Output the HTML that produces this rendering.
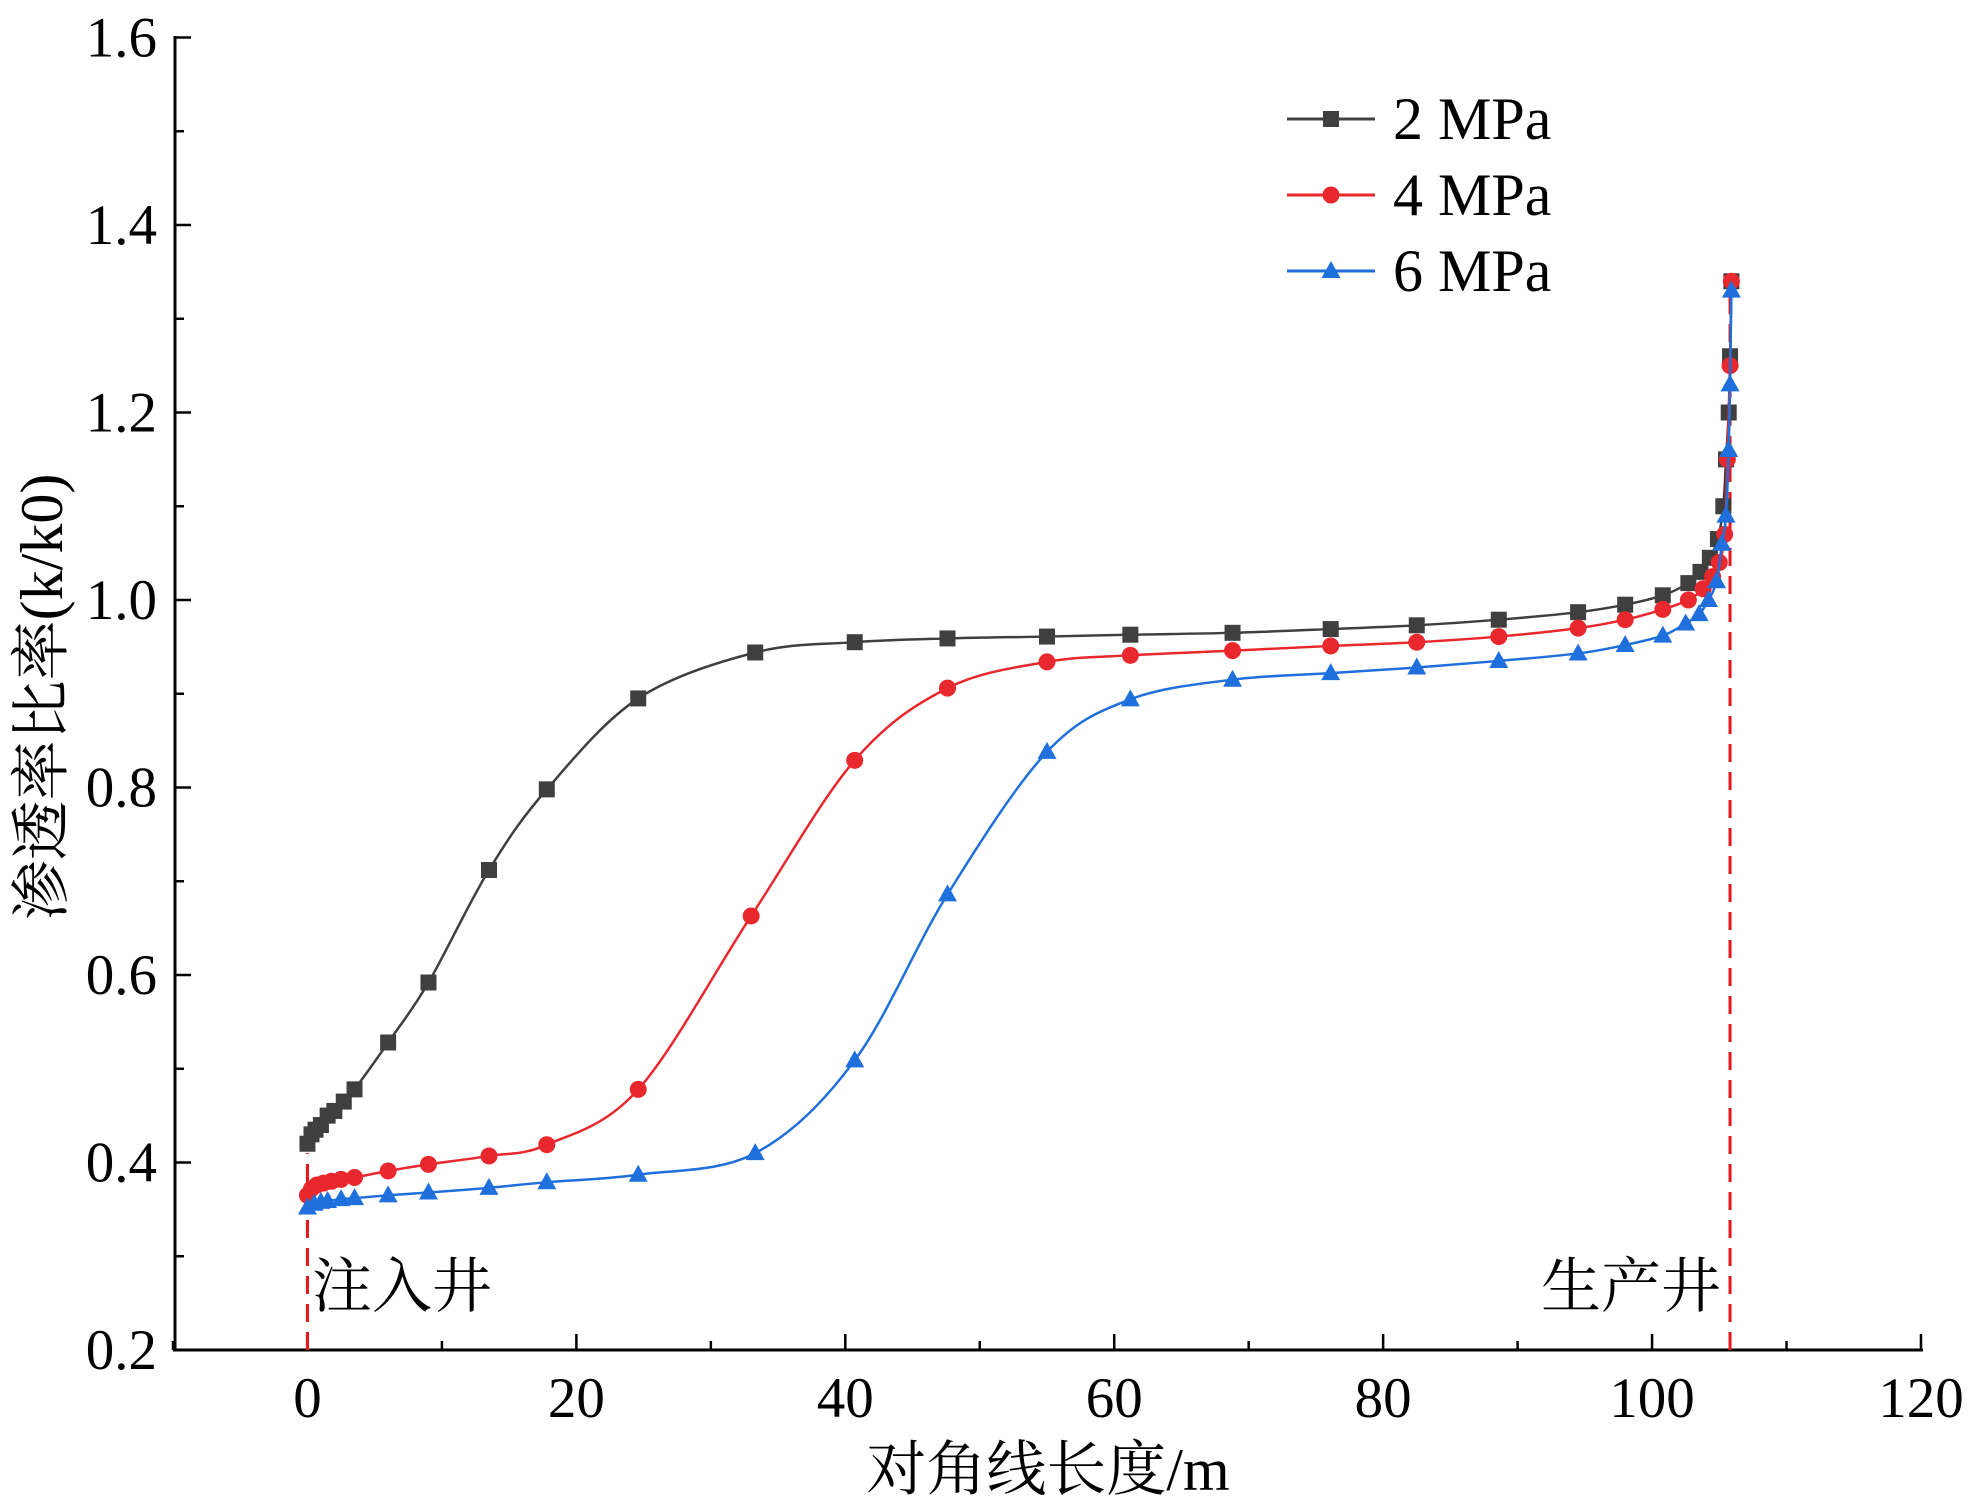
<!DOCTYPE html>
<html><head><meta charset="utf-8"><style>
body{margin:0;background:#fff}
svg{display:block}
text{font-family:"Liberation Serif","Noto Serif CJK SC",serif;fill:#000}
</style></head><body>
<svg id="c" width="1969" height="1507" viewBox="0 0 1969 1507"></svg>
<script>
const xTicks=[0,20,40,60,80,100,120];
const yTicks=[0.2,0.4,0.6,0.8,1.0,1.2,1.4,1.6];
const x2=[0,0.3,0.6,1,1.5,2,2.7,3.5,6,9,13.5,17.8,24.6,33.3,40.7,47.6,55,61.2,68.8,76.1,82.5,88.6,94.5,98,100.8,102.7,103.6,104.3,104.9,105.3,105.5,105.7,105.8,105.9];
const y2=[0.42,0.43,0.435,0.44,0.45,0.455,0.465,0.478,0.528,0.592,0.712,0.798,0.895,0.944,0.955,0.959,0.961,0.963,0.965,0.969,0.973,0.979,0.987,0.995,1.005,1.018,1.03,1.045,1.065,1.1,1.15,1.2,1.26,1.34];
const x4=[0,0.3,0.7,1.2,1.8,2.5,3.5,6,9,13.5,17.8,24.6,33,40.7,47.6,55,61.2,68.8,76.1,82.5,88.6,94.5,98,100.8,102.7,103.8,104.5,105,105.4,105.6,105.8,105.9];
const y4=[0.365,0.372,0.376,0.378,0.38,0.382,0.384,0.391,0.398,0.407,0.419,0.478,0.663,0.829,0.906,0.934,0.941,0.946,0.951,0.955,0.961,0.97,0.979,0.99,1.0,1.012,1.025,1.04,1.07,1.15,1.25,1.34];
const x6=[0,0.5,1,1.5,2.5,3.5,6,9,13.5,17.8,24.6,33.3,40.7,47.6,55,61.2,68.8,76.1,82.5,88.6,94.5,98,100.8,102.5,103.5,104.2,104.8,105.2,105.5,105.7,105.8,105.9];
const y6=[0.352,0.356,0.358,0.359,0.361,0.362,0.365,0.368,0.373,0.379,0.387,0.41,0.509,0.686,0.838,0.894,0.915,0.922,0.928,0.935,0.943,0.952,0.962,0.975,0.985,1.0,1.02,1.06,1.09,1.16,1.23,1.33];
const wells=[0,105.8];
const NS='http://www.w3.org/2000/svg';
const svg=document.getElementById('c');
const X=v=>173+(v+10)*13.446;
const Y=v=>1350-(v-0.2)*937.5;
function mk(tag,attrs,parent){const e=document.createElementNS(NS,tag);for(const k in attrs)e.setAttribute(k,attrs[k]);(parent||svg).appendChild(e);return e;}
let a=mk('line',{x1:173,y1:1350,x2:1923,y2:1350,stroke:'#000','stroke-width':3});


a=mk('line',{x1:175,y1:1351,x2:175,y2:36,stroke:'#000','stroke-width':3});


for(let v=-10;v<=120;v+=10){const major=v%20===0;mk('line',{x1:X(v),y1:1350,x2:X(v),y2:1350-(major?16:9),stroke:'#000','stroke-width':2.5});}
for(let i=0;i<=14;i++){const v=0.2+i*0.1;const major=i%2===0;mk('line',{x1:175,y1:Y(v),x2:175+(major?16:9),y2:Y(v),stroke:'#000','stroke-width':2.5});}
xTicks.forEach(v=>{const t=mk('text',{x:X(v),y:1417,'text-anchor':'middle','font-size':57});t.textContent=v;

});
yTicks.forEach(v=>{const t=mk('text',{x:157,y:Y(v)+19,'text-anchor':'end','font-size':57});t.textContent=v.toFixed(1);

});
let t=mk('text',{x:1048,y:1490,'text-anchor':'middle','font-size':60});t.textContent='对角线长度/m';


t=mk('text',{x:0,y:0,'text-anchor':'middle','font-size':60,transform:'translate(62,697) rotate(-90)'});t.textContent='渗透率比率(k/k0)';


wells.forEach((w,i)=>{const l=mk('line',{x1:X(w),y1:1350,x2:X(w),y2:i===0?Y(0.41):Y(1.34),stroke:'#e8161b','stroke-width':3,'stroke-dasharray':'18,10'});

});
t=mk('text',{x:312,y:1307,'font-size':60});t.textContent='注入井';


t=mk('text',{x:1541,y:1307,'font-size':60});t.textContent='生产井';


function pathD(xs,ys){const p=xs.map((v,i)=>[X(v),Y(ys[i])]);let d='M'+p[0][0]+','+p[0][1];
for(let i=0;i<p.length-1;i++){const p0=p[Math.max(0,i-1)],p1=p[i],p2=p[i+1],p3=p[Math.min(p.length-1,i+2)];
d+=' C'+(p1[0]+(p2[0]-p0[0])/6)+','+(p1[1]+(p2[1]-p0[1])/6)+' '+(p2[0]-(p3[0]-p1[0])/6)+','+(p2[1]-(p3[1]-p1[1])/6)+' '+p2[0]+','+p2[1];}return d;}
function marker(type,cx,cy,col,g){if(type==='sq')return mk('rect',{x:cx-8,y:cy-8,width:16,height:16,fill:col},g);
if(type==='ci')return mk('circle',{cx:cx,cy:cy,r:8.5,fill:col},g);
return mk('polygon',{points:(cx)+','+(cy-10)+' '+(cx+9.5)+','+(cy+7)+' '+(cx-9.5)+','+(cy+7),fill:col},g);}
const series=[[x2,y2,'#3f3f3f','sq','series-2mpa'],[x4,y4,'#e8282d','ci','series-4mpa'],[x6,y6,'#1f6fdc','tr','series-6mpa']];
series.forEach(s=>{const g=mk('g',{});


mk('path',{d:pathD(s[0],s[1]),fill:'none',stroke:s[2],'stroke-width':2.5},g);
s[0].forEach((v,i)=>{const m=marker(s[3],X(v),Y(s[1][i]),s[2],g);

});});
const labels=['2 MPa','4 MPa','6 MPa'];
series.forEach((s,i)=>{const g=mk('g',{});


const y=119+i*76;mk('line',{x1:1287,y1:y,x2:1375,y2:y,stroke:s[2],'stroke-width':3},g);marker(s[3],1331,y,s[2],g);
const tt=mk('text',{x:1393,y:y+20,'font-size':60},g);tt.textContent=labels[i];});
</script>
</body></html>
